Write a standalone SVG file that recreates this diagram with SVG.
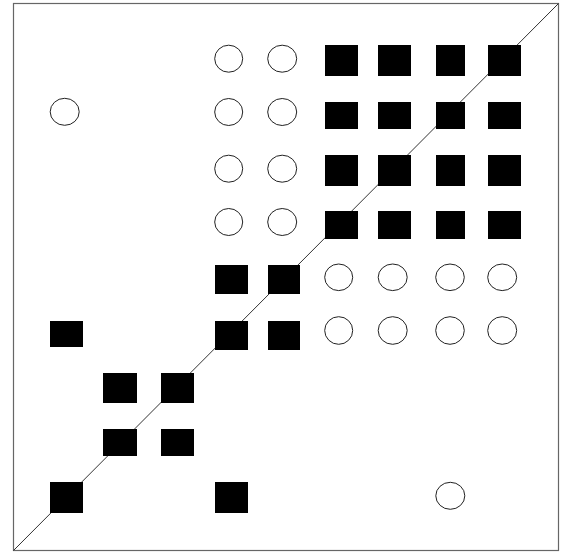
<svg xmlns="http://www.w3.org/2000/svg" width="566" height="552" viewBox="0 0 566 552">
<style>
.frame{fill:#ffffff;stroke:#666666;stroke-width:1.2}
.diag{stroke:#333333;stroke-width:1;fill:none}
.sq{fill:#000000;stroke:none}
.ci{fill:#ffffff;stroke:#222222;stroke-width:1}
</style>
<rect class="frame" x="13.5" y="3.5" width="545" height="547"/>
<g id="connectors">
<line class="diag" x1="13.5" y1="550.5" x2="558.5" y2="3.5"/>
</g>
<g id="nodes">
<!-- Row 1 -->
<g id="r1c4"><ellipse class="ci" cx="228.7" cy="58.7" rx="14" ry="13.5"/></g>
<g id="r1c5"><ellipse class="ci" cx="282.2" cy="58.7" rx="14.5" ry="13.5"/></g>
<g id="r1c6"><rect class="sq" x="325" y="45" width="33" height="31"/></g>
<g id="r1c7"><rect class="sq" x="378" y="45" width="33" height="31"/></g>
<g id="r1c8"><rect class="sq" x="436" y="45" width="29" height="31"/></g>
<g id="r1c9"><rect class="sq" x="488" y="45" width="33" height="31"/></g>
<!-- Row 2 -->
<g id="r2c1"><ellipse class="ci" cx="64.7" cy="111.8" rx="14.5" ry="13.5"/></g>
<g id="r2c4"><ellipse class="ci" cx="228.7" cy="112" rx="14" ry="13.5"/></g>
<g id="r2c5"><ellipse class="ci" cx="282.2" cy="112" rx="14.5" ry="13.5"/></g>
<g id="r2c6"><rect class="sq" x="325" y="102" width="33" height="27"/></g>
<g id="r2c7"><rect class="sq" x="378" y="102" width="33" height="27"/></g>
<g id="r2c8"><rect class="sq" x="436" y="102" width="29" height="27"/></g>
<g id="r2c9"><rect class="sq" x="488" y="102" width="33" height="27"/></g>
<!-- Row 3 -->
<g id="r3c4"><ellipse class="ci" cx="228.7" cy="168.7" rx="14" ry="13.5"/></g>
<g id="r3c5"><ellipse class="ci" cx="282.2" cy="168.7" rx="14.5" ry="13.5"/></g>
<g id="r3c6"><rect class="sq" x="325" y="155" width="33" height="31"/></g>
<g id="r3c7"><rect class="sq" x="378" y="155" width="33" height="31"/></g>
<g id="r3c8"><rect class="sq" x="436" y="155" width="29" height="31"/></g>
<g id="r3c9"><rect class="sq" x="488" y="155" width="33" height="31"/></g>
<!-- Row 4 -->
<g id="r4c4"><ellipse class="ci" cx="228.7" cy="222" rx="14" ry="13.5"/></g>
<g id="r4c5"><ellipse class="ci" cx="282.2" cy="222" rx="14.5" ry="13.5"/></g>
<g id="r4c6"><rect class="sq" x="325" y="211" width="33" height="28"/></g>
<g id="r4c7"><rect class="sq" x="378" y="211" width="33" height="28"/></g>
<g id="r4c8"><rect class="sq" x="436" y="211" width="29" height="28"/></g>
<g id="r4c9"><rect class="sq" x="488" y="211" width="33" height="28"/></g>
<!-- Row 5 -->
<g id="r5c4"><rect class="sq" x="215" y="265" width="33" height="29"/></g>
<g id="r5c5"><rect class="sq" x="268" y="265" width="32" height="29"/></g>
<g id="r5c6"><ellipse class="ci" cx="338.7" cy="277.3" rx="14" ry="13.3"/></g>
<g id="r5c7"><ellipse class="ci" cx="392.7" cy="277.3" rx="14.5" ry="13.3"/></g>
<g id="r5c8"><ellipse class="ci" cx="450" cy="277.3" rx="14.3" ry="13.3"/></g>
<g id="r5c9"><ellipse class="ci" cx="502.2" cy="277.3" rx="14.5" ry="13.3"/></g>
<!-- Row 6 -->
<g id="r6c1"><rect class="sq" x="50" y="321" width="33" height="26"/></g>
<g id="r6c4"><rect class="sq" x="215" y="321" width="33" height="29"/></g>
<g id="r6c5"><rect class="sq" x="268" y="321" width="32" height="29"/></g>
<g id="r6c6"><ellipse class="ci" cx="338.7" cy="330.5" rx="14" ry="13.8"/></g>
<g id="r6c7"><ellipse class="ci" cx="392.7" cy="330.5" rx="14.5" ry="13.8"/></g>
<g id="r6c8"><ellipse class="ci" cx="450" cy="330.5" rx="14.3" ry="13.8"/></g>
<g id="r6c9"><ellipse class="ci" cx="502.2" cy="330.5" rx="14.5" ry="13.8"/></g>
<!-- Row 7 -->
<g id="r7c2"><rect class="sq" x="103" y="373" width="34" height="30"/></g>
<g id="r7c3"><rect class="sq" x="161" y="373" width="33" height="30"/></g>
<!-- Row 8 -->
<g id="r8c2"><rect class="sq" x="103" y="429" width="34" height="27"/></g>
<g id="r8c3"><rect class="sq" x="161" y="429" width="33" height="27"/></g>
<!-- Row 9 -->
<g id="r9c1"><rect class="sq" x="50" y="482" width="33" height="31"/></g>
<g id="r9c4"><rect class="sq" x="215" y="482" width="33" height="31"/></g>
<g id="r9c8"><ellipse class="ci" cx="450.3" cy="495.8" rx="14.5" ry="13.5"/></g>
</g>
</svg>
